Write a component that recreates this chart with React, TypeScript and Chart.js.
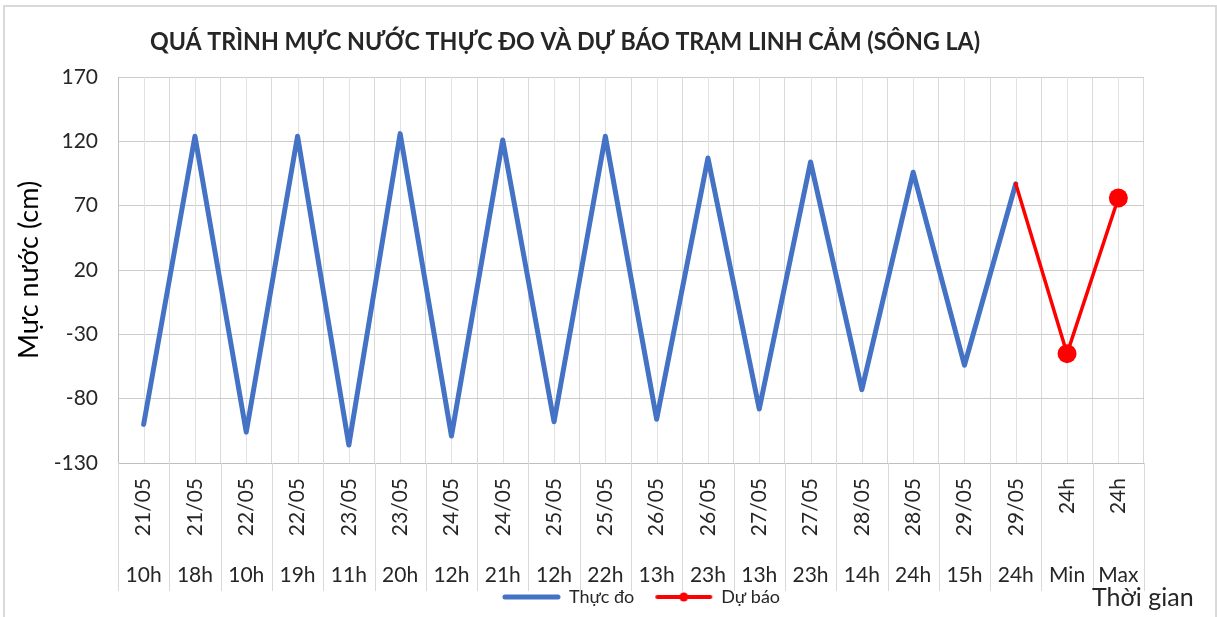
import React, { useEffect, useRef } from "react";
import { Chart, registerables } from "chart.js";

Chart.register(...registerables);

// ---------- data ----------
const dateLabels = [
  "21/05", "21/05", "22/05", "22/05", "23/05", "23/05", "24/05", "24/05", "25/05", "25/05",
  "26/05", "26/05", "27/05", "27/05", "28/05", "28/05", "29/05", "29/05", "24h", "24h",
];
const hourLabels = [
  "10h", "18h", "10h", "19h", "11h", "20h", "12h", "21h", "12h", "22h",
  "13h", "23h", "13h", "23h", "14h", "24h", "15h", "24h", "Min", "Max",
];
const observed = [
  -100, 124, -106, 124, -116, 126, -109, 121, -98, 124,
  -96, 107, -88, 104, -73, 96, -54, 87, null, null,
];
const forecast = [
  null, null, null, null, null, null, null, null, null, null,
  null, null, null, null, null, null, null, 87, -45, 76,
];
const yMin = -130;
const yMax = 170;
const yStep = 50;

const TITLE = "QUÁ TRÌNH MỰC NƯỚC THỰC ĐO VÀ DỰ BÁO TRẠM LINH CẢM (SÔNG LA)";
const Y_TITLE = "Mực nước (cm)";
const X_TITLE = "Thời gian";
const SERIES = ["Thực đo", "Dự báo"];

// ---------- styles ----------
const BLUE = "#4472C4";
const RED = "#FF0000";
const FONT = "Lato, 'Noto Sans', sans-serif";
const TEXT = "#262626";

function legendIcon(color: string, lw: number, dot: number) {
  const c = document.createElement("canvas");
  c.width = 86;
  c.height = 12;
  const g = c.getContext("2d")!;
  g.strokeStyle = color;
  g.lineWidth = lw;
  g.lineCap = "round";
  g.beginPath();
  g.moveTo(27, 6);
  g.lineTo(80, 6);
  g.stroke();
  if (dot) {
    g.fillStyle = color;
    g.beginPath();
    g.arc(53.5, 6, dot, 0, Math.PI * 2);
    g.fill();
  }
  return c;
}

const decor = {
  id: "decor",
  beforeDatasetsDraw(chart: any) {
    const { ctx, chartArea: a, scales } = chart;
    const x = scales.x;
    const n = dateLabels.length;
    const half = (x.getPixelForTick(1) - x.getPixelForTick(0)) / 2;
    ctx.save();
    ctx.lineWidth = 1;
    ctx.strokeStyle = "#e2e2e2";
    for (let i = 0; i < n; i++) {
      const px = Math.round(x.getPixelForTick(i)) + 0.5;
      ctx.beginPath();
      ctx.moveTo(px, a.top);
      ctx.lineTo(px, a.bottom);
      ctx.stroke();
    }
    ctx.strokeStyle = "#d9d9d9";
    const bottom = scales.x2.bottom + 3;
    for (let i = 0; i <= n; i++) {
      const c = i < n ? x.getPixelForTick(i) - half : x.getPixelForTick(n - 1) + half;
      const px = Math.round(c) + 0.5;
      ctx.beginPath();
      ctx.moveTo(px, a.bottom);
      ctx.lineTo(px, bottom);
      ctx.stroke();
    }
    ctx.restore();
  },
  afterDraw(chart: any) {
    const { ctx } = chart;
    ctx.save();
    ctx.fillStyle = TEXT;
    ctx.textBaseline = "middle";
    ctx.textAlign = "center";
    ctx.font = `bold 24px ${FONT}`;
    ctx.fillText(TITLE, 560, 35, 830);
    ctx.textAlign = "left";
    ctx.font = `25px ${FONT}`;
    ctx.fillText(X_TITLE, 1087, 591);
    ctx.restore();
  },
};

export default function App() {
  const ref = useRef<HTMLCanvasElement | null>(null);

  useEffect(() => {
    if (!ref.current) return;
    const icons = [legendIcon(BLUE, 5, 0), legendIcon(RED, 4, 4.5)];
    const chart = new Chart(ref.current, {
      type: "line",
      data: {
        labels: dateLabels,
        datasets: [
          {
            label: SERIES[0],
            data: observed,
            borderColor: BLUE,
            backgroundColor: BLUE,
            borderWidth: 5,
            pointRadius: 0,
            tension: 0,
            borderCapStyle: "round",
            borderJoinStyle: "round",
            order: 1,
            xAxisID: "x",
          },
          {
            label: SERIES[1],
            data: forecast,
            borderColor: RED,
            backgroundColor: RED,
            borderWidth: 3.5,
            pointRadius: (c: any) => (c.dataIndex > 17 ? 9.5 : 0),
            pointBorderWidth: 0,
            pointHoverRadius: 9.5,
            tension: 0,
            borderCapStyle: "round",
            order: 0,
            xAxisID: "x",
          },
        ],
      },
      options: {
        animation: false,
        responsive: true,
        maintainAspectRatio: false,
        layout: { padding: { left: 8, right: 71, top: 70, bottom: 3 } },
        plugins: {
          title: { display: false },
          tooltip: { enabled: false },
          legend: {
            position: "bottom",
            fullSize: false,
            labels: {
              usePointStyle: true,
              pointStyleWidth: 78,
              padding: 0,
              color: TEXT,
              font: { family: FONT, size: 18 },
              generateLabels: () =>
                SERIES.map((s, i) => ({
                  text: s,
                  datasetIndex: i,
                  pointStyle: icons[i],
                  fillStyle: i ? RED : BLUE,
                  strokeStyle: i ? RED : BLUE,
                  lineWidth: 0,
                  hidden: false,
                  fontColor: TEXT,
                })),
            },
          },
        },
        scales: {
          x: {
            type: "category",
            offset: true,
            grid: { offset: true, color: "#d9d9d9", drawTicks: false },
            border: { color: "#bfbfbf" },
            ticks: {
              autoSkip: false,
              minRotation: 90,
              maxRotation: 90,
              padding: 15,
              color: TEXT,
              font: { family: FONT, size: 21 },
            },
            afterFit: (s: any) => {
              s.height = 78;
            },
          },
          x2: {
            type: "category",
            position: "bottom",
            labels: hourLabels,
            offset: true,
            grid: { display: false, drawTicks: false },
            border: { display: false },
            ticks: {
              autoSkip: false,
              maxRotation: 0,
              padding: 22,
              color: TEXT,
              font: { family: FONT, size: 21 },
            },
            afterFit: (s: any) => {
              s.height = 47;
            },
          },
          y: {
            min: yMin,
            max: yMax,
            ticks: {
              stepSize: yStep,
              padding: 20,
              color: TEXT,
              font: { family: FONT, size: 21 },
            },
            grid: { color: "#cccccc", drawTicks: false },
            border: { color: "#bfbfbf" },
            title: {
              display: true,
              text: Y_TITLE,
              color: "#000",
              font: { family: FONT, size: 27 },
              padding: { top: 0, bottom: 0 },
            },
            afterFit: (s: any) => {
              s.width = 105;
            },
          },
        },
      },
      plugins: [decor],
    });
    return () => chart.destroy();
  }, []);

  return (
    <div
      style={{
        position: "absolute",
        left: 3,
        top: 5,
        width: 1210,
        height: 612,
        border: "2px solid #d9d9d9",
        borderBottom: "none",
      }}
    >
      <canvas ref={ref} />
    </div>
  );
}
